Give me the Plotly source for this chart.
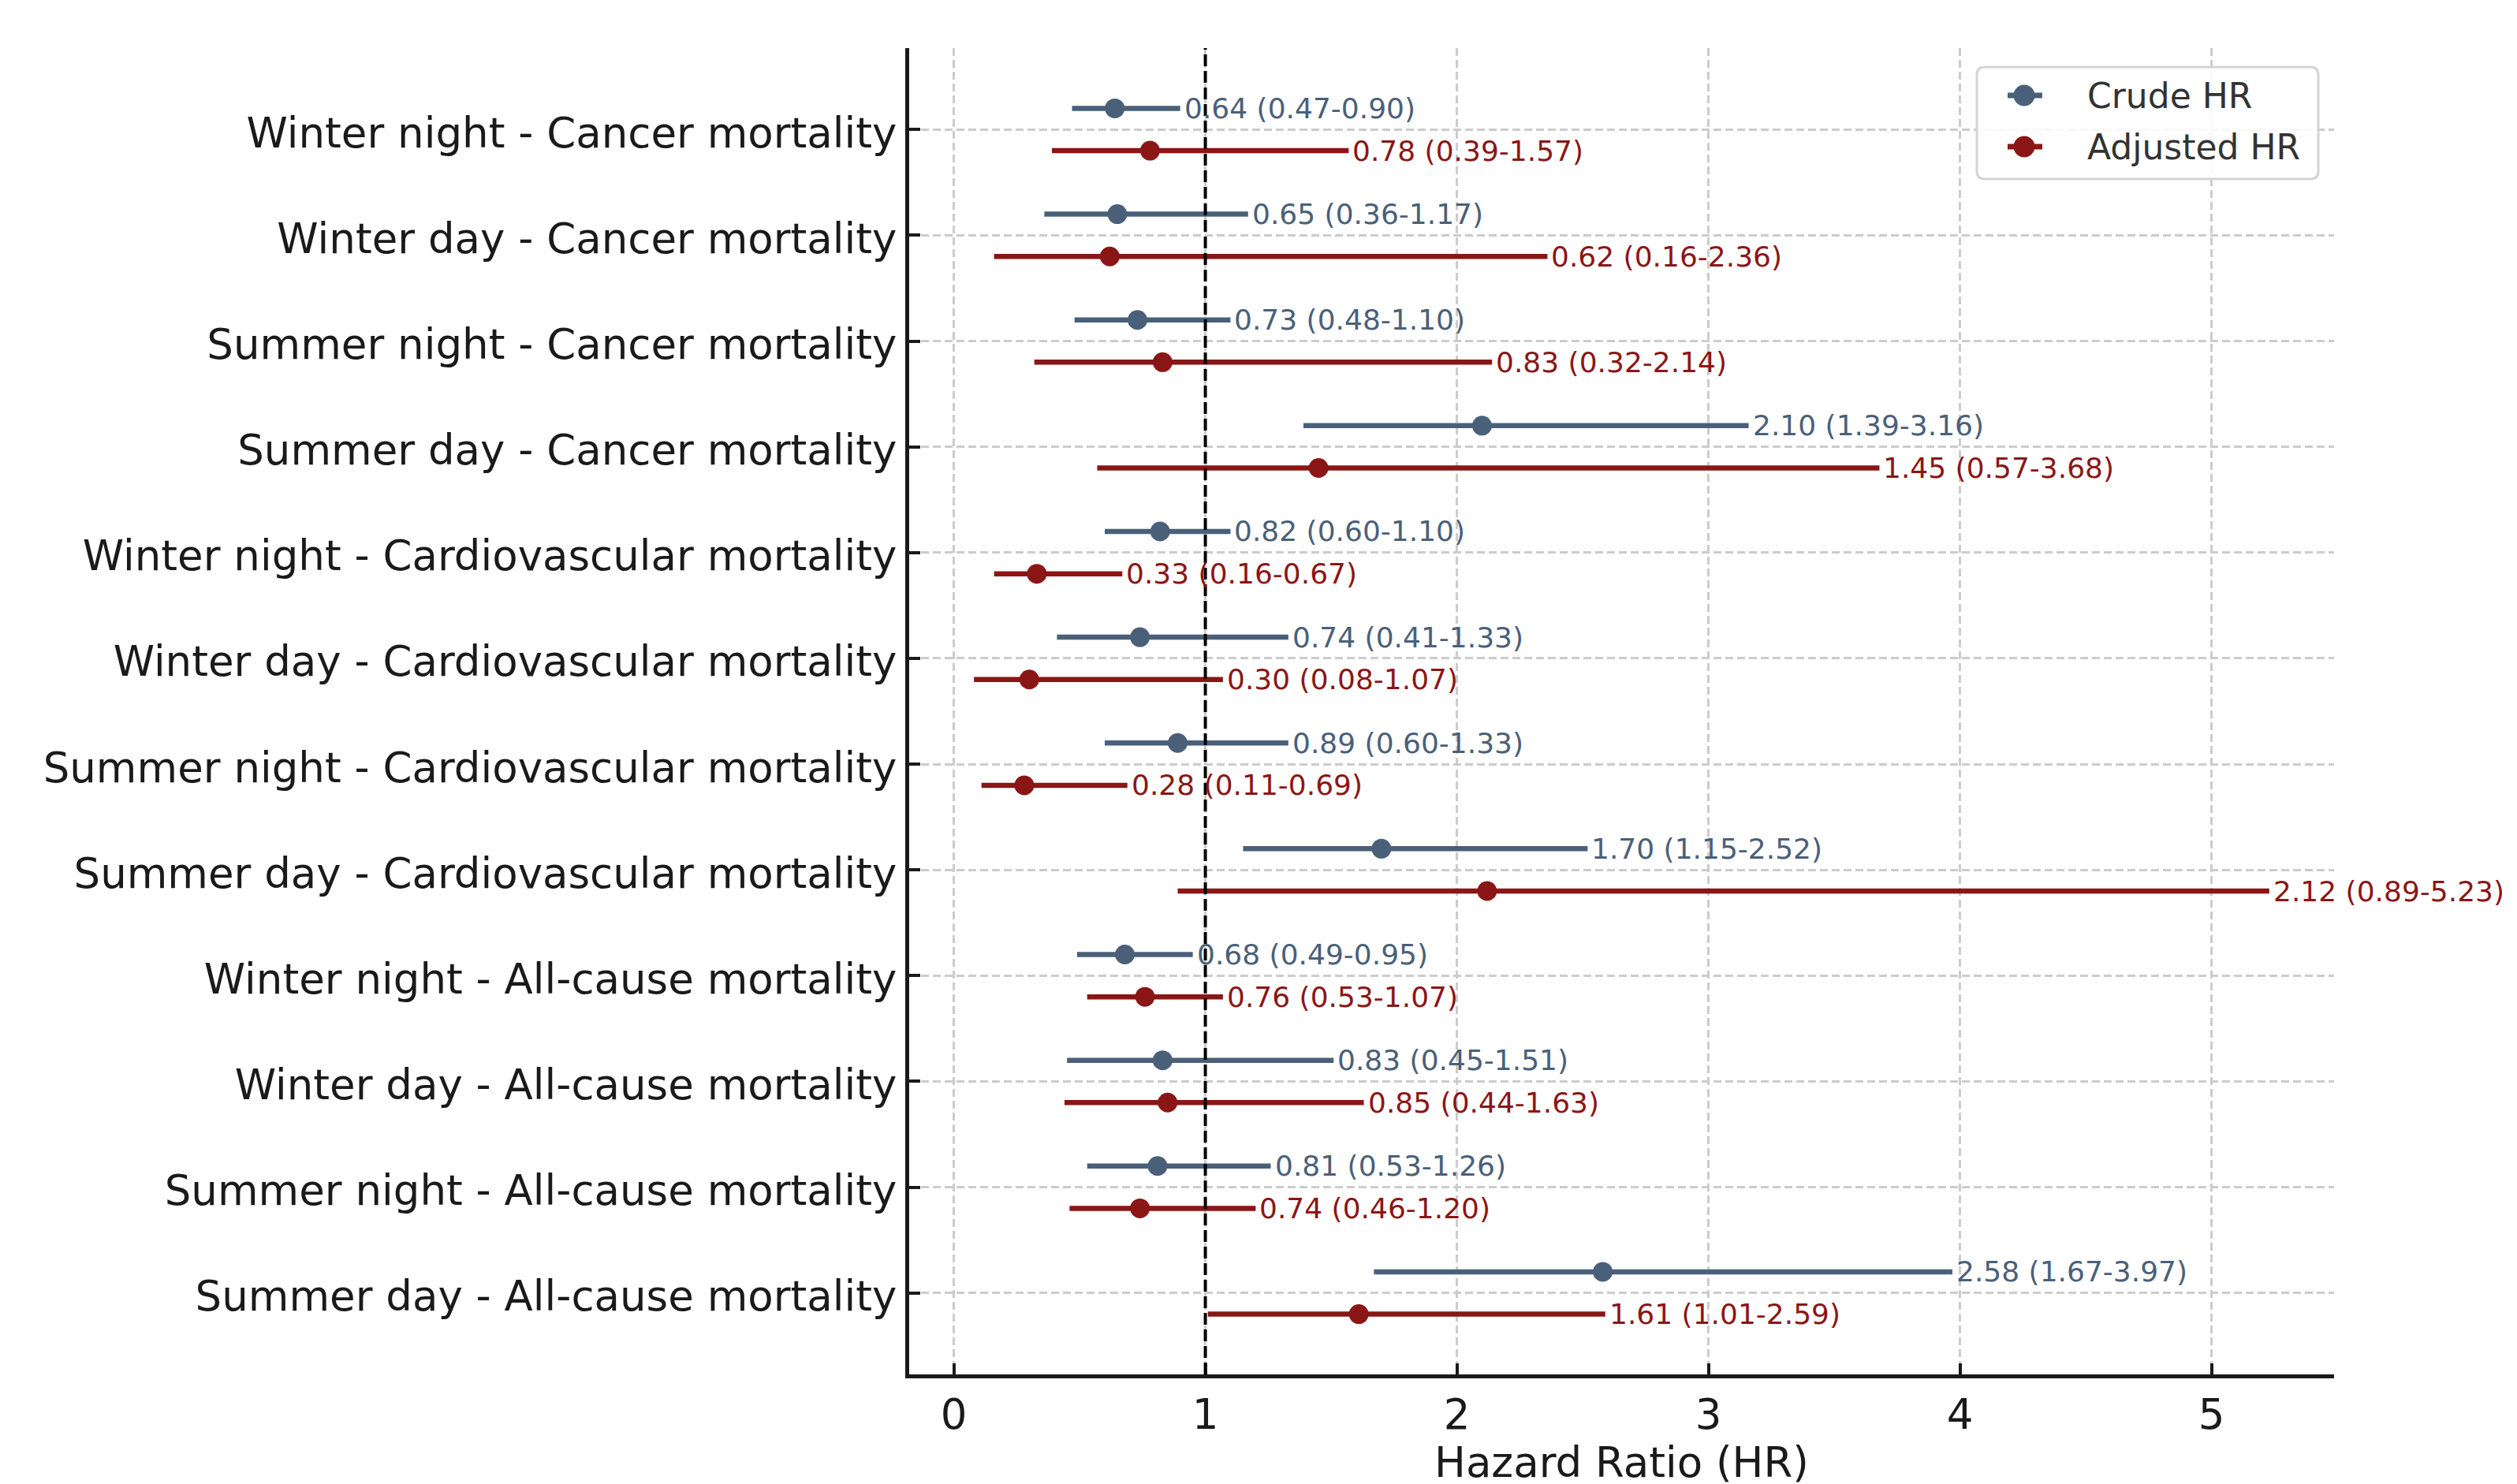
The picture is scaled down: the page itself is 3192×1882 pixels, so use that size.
import plotly.graph_objects as go

labels = [
    "Winter night - Cancer mortality",
    "Winter day - Cancer mortality",
    "Summer night - Cancer mortality",
    "Summer day - Cancer mortality",
    "Winter night - Cardiovascular mortality",
    "Winter day - Cardiovascular mortality",
    "Summer night - Cardiovascular mortality",
    "Summer day - Cardiovascular mortality",
    "Winter night - All-cause mortality",
    "Winter day - All-cause mortality",
    "Summer night - All-cause mortality",
    "Summer day - All-cause mortality",
]
crude_hr = [0.64, 0.65, 0.73, 2.10, 0.82, 0.74, 0.89, 1.70, 0.68, 0.83, 0.81, 2.58]
crude_lo = [0.47, 0.36, 0.48, 1.39, 0.60, 0.41, 0.60, 1.15, 0.49, 0.45, 0.53, 1.67]
crude_hi = [0.90, 1.17, 1.10, 3.16, 1.10, 1.33, 1.33, 2.52, 0.95, 1.51, 1.26, 3.97]
adj_hr = [0.78, 0.62, 0.83, 1.45, 0.33, 0.30, 0.28, 2.12, 0.76, 0.85, 0.74, 1.61]
adj_lo = [0.39, 0.16, 0.32, 0.57, 0.16, 0.08, 0.11, 0.89, 0.53, 0.44, 0.46, 1.01]
adj_hi = [1.57, 2.36, 2.14, 3.68, 0.67, 1.07, 0.69, 5.23, 1.07, 1.63, 1.20, 2.59]
series_names = ["Crude HR", "Adjusted HR"]
x_ticks = [0, 1, 2, 3, 4, 5]

CRUDE = "#4a6079"
ADJ = "#8b1616"
FONT = "DejaVu Sans"
MSIZE = 25

n = len(labels)
ypos = [n - 1 - i for i in range(n)]

fig = go.Figure()


def add_series(name, hr, lo, hi, color, offset):
    xs, ys = [], []
    for i in range(n):
        y = ypos[i] + offset
        xs += [lo[i], hi[i], None]
        ys += [y, y, None]
    ym = [ypos[i] + offset for i in range(n)]
    fig.add_trace(go.Scatter(
        x=xs, y=ys, mode="lines", showlegend=False, name=name,
        line=dict(color=color, width=6.5), connectgaps=False, hoverinfo="skip",
    ))
    fig.add_trace(go.Scatter(
        x=hr, y=ym, mode="markers", showlegend=False, name=name,
        marker=dict(color=color, size=MSIZE, opacity=1, line=dict(width=0)),
    ))
    for i in range(n):
        fig.add_annotation(
            x=hi[i], y=ym[i], xshift=3,
            text=f"{hr[i]:.2f} ({lo[i]:.2f}-{hi[i]:.2f})",
            xanchor="left", yanchor="middle", showarrow=False,
            font=dict(family=FONT, size=36, color=color),
        )


add_series(series_names[0], crude_hr, crude_lo, crude_hi, CRUDE, 0.2)
add_series(series_names[1], adj_hr, adj_lo, adj_hi, ADJ, -0.2)

fig.add_shape(type="line", x0=1, x1=1, y0=0, y1=1, yref="paper",
              line=dict(color="black", width=4, dash="15px,6px"))

# ---- legend box (pixel offsets from the plot's top-right corner) ----
L, R, T, B, rad = -453, -20, -24, -166, 10
box = (f"M{L+rad},{T} L{R-rad},{T} Q{R},{T} {R},{T-rad} L{R},{B+rad} "
       f"Q{R},{B} {R-rad},{B} L{L+rad},{B} Q{L},{B} {L},{B+rad} "
       f"L{L},{T-rad} Q{L},{T} {L+rad},{T} Z")
fig.add_shape(type="path", path=box, xref="paper", yref="paper",
              xsizemode="pixel", ysizemode="pixel", xanchor=1, yanchor=1,
              line=dict(color="#d4d4d4", width=3), fillcolor="rgba(255,255,255,0.85)")
for k, (nm, col) in enumerate(zip(series_names, [CRUDE, ADJ])):
    yc = -60 - 65 * k
    fig.add_shape(type="line", xref="paper", yref="paper",
                  xsizemode="pixel", ysizemode="pixel", xanchor=1, yanchor=1,
                  x0=-414, x1=-370, y0=yc, y1=yc, line=dict(color=col, width=7))
    fig.add_shape(type="circle", xref="paper", yref="paper",
                  xsizemode="pixel", ysizemode="pixel", xanchor=1, yanchor=1,
                  x0=-393 - 13.5, x1=-393 + 13.5, y0=yc - 13.5, y1=yc + 13.5,
                  line=dict(width=0), fillcolor=col)
    fig.add_annotation(x=1, y=1, xref="paper", yref="paper", xshift=-315, yshift=yc,
                       xanchor="left", yanchor="middle", showarrow=False, text=nm,
                       font=dict(family=FONT, size=44, color="#333333"))

fig.update_layout(
    width=3192, height=1882,
    margin=dict(l=1145, r=240, t=53, b=147),
    paper_bgcolor="white", plot_bgcolor="white",
    font=dict(family=FONT, size=53, color="#1a1a1a"),
    showlegend=False,
    xaxis=dict(
        range=[-0.1775, 5.4875], tickvals=x_ticks, automargin=False,
        showgrid=True, gridcolor="#cccccc", gridwidth=2.5, griddash="10px,5px",
        showline=True, linecolor="#1a1a1a", linewidth=5,
        ticks="inside", ticklen=14, tickwidth=3.5, tickcolor="#1a1a1a",
        zeroline=False,
        title=dict(text="Hazard Ratio (HR)", font=dict(size=53), standoff=6),
        tickfont=dict(size=53),
    ),
    yaxis=dict(
        range=[-0.77, 11.77], tickvals=ypos, ticktext=labels, automargin=False,
        showgrid=True, gridcolor="#cccccc", gridwidth=2.5, griddash="10px,5px",
        showline=True, linecolor="#1a1a1a", linewidth=5,
        ticks="inside", ticklen=14, tickwidth=3.5, tickcolor="#1a1a1a",
        zeroline=False, tickfont=dict(size=53), ticklabelshift=4,
    ),
)

fig.write_html("out.html")
